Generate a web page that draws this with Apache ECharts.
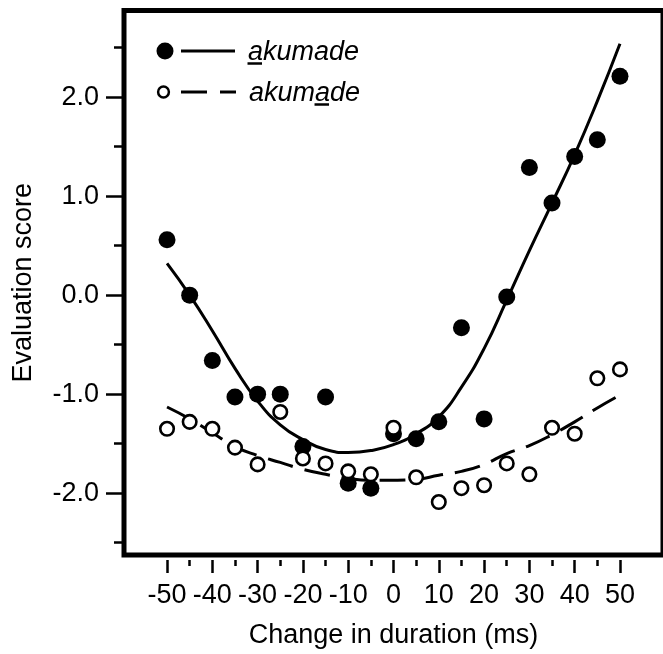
<!DOCTYPE html>
<html>
<head>
<meta charset="utf-8">
<script src="https://cdn.jsdelivr.net/npm/echarts@6/dist/echarts.min.js"></script>
<style>
html,body{margin:0;padding:0;background:#fff;}
#chart{width:663px;height:654px;}
</style>
</head>
<body>
<div id="chart"></div>
<script>
// ---- data ----
var durations = [-50,-45,-40,-35,-30,-25,-20,-15,-10,-5,0,5,10,15,20,25,30,35,40,45,50];
var firstA = [0.56,0.00,-0.66,-1.03,-1.00,-1.00,-1.53,-1.03,-1.90,-1.95,-1.40,-1.45,-1.28,-0.33,-1.25,-0.02,1.29,0.93,1.40,1.57,2.21];
var secondA = [-1.35,-1.28,-1.35,-1.54,-1.71,-1.18,-1.65,-1.70,-1.78,-1.81,-1.34,-1.84,-2.09,-1.95,-1.92,-1.70,-1.81,-1.34,-1.40,-0.84,-0.75];
var fitFirst = [0.32,0.00,-0.36,-0.74,-1.07,-1.31,-1.46,-1.56,-1.59,-1.57,-1.51,-1.40,-1.23,-0.93,-0.54,-0.05,0.45,0.93,1.42,1.96,2.54];
var fitSecond = [-1.13,-1.25,-1.39,-1.53,-1.62,-1.69,-1.76,-1.81,-1.85,-1.87,-1.87,-1.86,-1.82,-1.78,-1.71,-1.60,-1.52,-1.41,-1.28,-1.14,-1.01];
var xMajorTicks = [-50,-40,-30,-20,-10,0,10,20,30,40,50];
var xMinorTicks = [-45,-35,-25,-15,-5,5,15,25,35,45];
var yMajorTicks = [-2,-1,0,1,2];
var yMinorTicks = [-2.5,-1.5,-0.5,0.5,1.5,2.5];
var legendNames = ['akumade','akumade'];
var underlinedLetter = [0, 4]; // index of the underlined "a" in each legend label

function pairs(xs, ys){ return xs.map(function(x,i){ return [x, ys[i]]; }); }

var FONT = 'Liberation Sans, Arial, Helvetica, sans-serif';
var FS = 27;
var LEGEND_FONT = 'italic ' + FS + 'px ' + FONT;

// measure text to place the underline under the right letter
var mctx = document.createElement('canvas').getContext('2d');
mctx.font = LEGEND_FONT;
function underlineSpan(label, idx, x0){
  var a = mctx.measureText(label.slice(0, idx)).width;
  var w = mctx.measureText(label.charAt(idx)).width;
  return [x0 + a - 0.5, x0 + a + w - 1];
}
var textX1 = 248, textX2 = 249;
var u1 = underlineSpan(legendNames[0], underlinedLetter[0], textX1);
var u2 = underlineSpan(legendNames[1], underlinedLetter[1], textX2);

var chart = echarts.init(document.getElementById('chart'), null, {renderer:'canvas'});

var option = {
  animation:false,
  backgroundColor:'#fff',
  grid:{left:124, top:10.5, width:543, height:544.5, show:true, borderColor:'#000', borderWidth:5, backgroundColor:'transparent'},
  xAxis:[
    {type:'value', min:-59.5, max:59.5, position:'bottom', offset:5,
     axisLine:{show:false, onZero:false}, splitLine:{show:false},
     axisTick:{show:true, customValues:xMajorTicks, length:13, lineStyle:{color:'#000', width:2.5}},
     axisLabel:{show:true, customValues:xMajorTicks, margin:22, fontSize:FS, color:'#000', fontFamily:FONT},
     name:'Change in duration (ms)', nameLocation:'middle', nameGap:62,
     nameTextStyle:{fontSize:FS, color:'#000', fontFamily:FONT}},
    {type:'value', min:-59.5, max:59.5, position:'bottom', offset:5,
     axisLine:{show:false, onZero:false}, splitLine:{show:false},
     axisTick:{show:true, customValues:xMinorTicks, length:6, lineStyle:{color:'#000', width:2.5}},
     axisLabel:{show:false}}
  ],
  yAxis:[
    {type:'value', min:-2.625, max:2.875, position:'left',
     axisLine:{show:false, onZero:false}, splitLine:{show:false},
     axisTick:{show:true, customValues:yMajorTicks, length:18, lineStyle:{color:'#000', width:2.5}},
     axisLabel:{show:true, customValues:yMajorTicks, margin:25, fontSize:FS, color:'#000', fontFamily:FONT,
       formatter:function(v){ return Number(v).toFixed(1); }},
     name:'Evaluation score', nameLocation:'middle', nameGap:87,
     nameTextStyle:{fontSize:FS, color:'#000', fontFamily:FONT}},
    {type:'value', min:-2.625, max:2.875, position:'left',
     axisLine:{show:false, onZero:false}, splitLine:{show:false},
     axisTick:{show:true, customValues:yMinorTicks, length:10, lineStyle:{color:'#000', width:2.5}},
     axisLabel:{show:false}}
  ],
  series:[
    {type:'line', name:'fit1', data:pairs(durations, fitFirst), smooth:true, symbol:'none', z:2,
     lineStyle:{color:'#000', width:3}},
    {type:'line', name:'fit2', data:pairs(durations, fitSecond), smooth:true, symbol:'none', z:2,
     lineStyle:{color:'#000', width:3, type:[26,12]}},
    {type:'scatter', name:legendNames[0], data:pairs(durations, firstA), symbol:'circle', symbolSize:17, z:3,
     itemStyle:{color:'#000', opacity:1}},
    {type:'scatter', name:legendNames[1], data:pairs(durations, secondA), symbol:'circle', symbolSize:13.5, z:4,
     itemStyle:{color:'#fff', borderColor:'#000', borderWidth:2.6, opacity:1}}
  ],
  graphic:[
    {type:'circle', shape:{cx:165, cy:51, r:8.5}, style:{fill:'#000'}, z:10},
    {type:'line', shape:{x1:181, y1:51, x2:235, y2:51}, style:{stroke:'#000', lineWidth:3}, z:10},
    {type:'text', x:textX1, y:52, style:{text:legendNames[0], font:LEGEND_FONT, fill:'#000', verticalAlign:'middle'}, z:10},
    {type:'line', shape:{x1:u1[0], y1:63.5, x2:u1[1], y2:63.5}, style:{stroke:'#000', lineWidth:2.5}, z:10},
    {type:'circle', shape:{cx:163.5, cy:92, r:5.4}, style:{fill:'#fff', stroke:'#000', lineWidth:2.5}, z:10},
    {type:'line', shape:{x1:181, y1:92, x2:207, y2:92}, style:{stroke:'#000', lineWidth:3}, z:10},
    {type:'line', shape:{x1:220, y1:92, x2:236, y2:92}, style:{stroke:'#000', lineWidth:3}, z:10},
    {type:'text', x:textX2, y:93, style:{text:legendNames[1], font:LEGEND_FONT, fill:'#000', verticalAlign:'middle'}, z:10},
    {type:'line', shape:{x1:u2[0], y1:104.5, x2:u2[1], y2:104.5}, style:{stroke:'#000', lineWidth:2.5}, z:10}
  ]
};
chart.setOption(option);
</script>
</body>
</html>
